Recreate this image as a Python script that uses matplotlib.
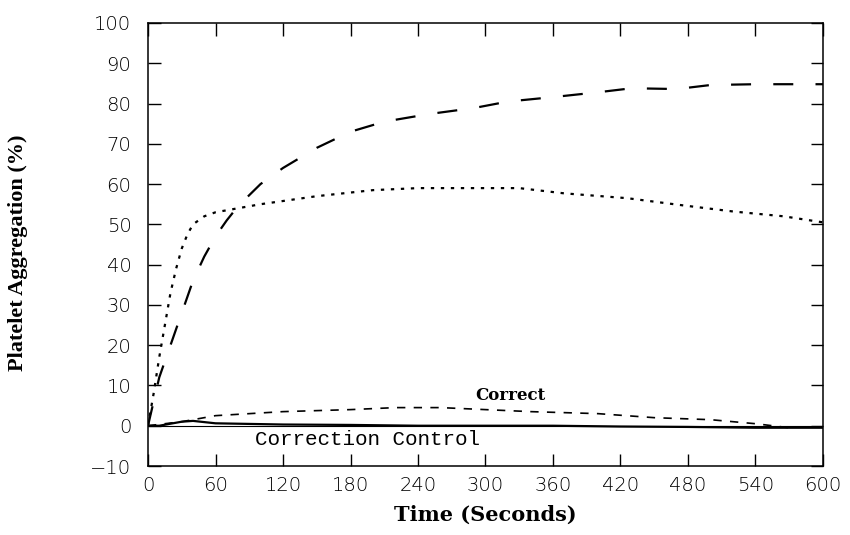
import matplotlib
matplotlib.use("Agg")
import matplotlib.pyplot as plt

# Data (time in seconds, aggregation in %)
t_long = [0, 10, 20, 30, 40, 50, 60, 70, 80, 100, 120, 150, 180, 210, 250, 290, 320, 360, 400, 430, 470, 500, 540, 600]
v_long = [0, 12, 20, 28, 36, 42, 47, 51, 54.5, 60, 64, 69, 73, 75.5, 77.4, 78.9, 80.5, 81.6, 82.8, 83.8, 83.6, 84.6, 84.8, 84.8]

t_dot = [0, 5, 10, 15, 20, 25, 30, 35, 40, 50, 60, 80, 100, 150, 200, 240, 330, 370, 426, 476, 520, 565, 600]
v_dot = [0, 8, 17, 25, 33, 39, 44, 47.5, 50, 52, 53, 54, 55, 57, 58.5, 59, 59, 57.7, 56.5, 54.7, 53.2, 52, 50.5]

t_correct = [0, 30, 60, 120, 180, 220, 260, 300, 340, 400, 450, 500, 540, 570]
v_correct = [0, 1, 2.5, 3.5, 4, 4.5, 4.5, 4, 3.5, 3, 2, 1.5, 0.5, -0.5]

t_control = [0, 10, 30, 40, 60, 120, 180, 240, 300, 360, 420, 480, 540, 600]
v_control = [0, 0, 1, 1.2, 0.6, 0.3, 0.2, 0, 0, 0, -0.2, -0.3, -0.5, -0.5]

x_ticks = [0, 60, 120, 180, 240, 300, 360, 420, 480, 540, 600]
y_ticks = [-10, 0, 10, 20, 30, 40, 50, 60, 70, 80, 90, 100]

fig = plt.figure(figsize=(8.5, 5.35), dpi=100)
ax = fig.add_axes([148/850, 1-466/535, (823-148)/850, (466-23)/535])

ax.plot(t_long, v_long, color="black", lw=1.6, linestyle=(0, (9, 10)), dash_capstyle="butt")
ax.plot(t_dot, v_dot, color="black", lw=1.6, linestyle=(0, (1.5, 3)))
ax.plot(t_correct, v_correct, color="black", lw=1.2, linestyle=(0, (5, 5)))
ax.plot(t_control, v_control, color="black", lw=1.6, linestyle="-")

ax.axhline(0, color="black", lw=0.8)

ax.set_xlim(0, 600)
ax.set_ylim(-10, 100)
ax.set_xticks(x_ticks)
ax.set_yticks(y_ticks)
ax.set_xticklabels([str(v) for v in x_ticks])
ax.set_yticklabels([str(v).replace("-", "\u2212") for v in y_ticks])
ax.tick_params(direction="in", length=9, width=1, top=True, right=True,
               labelsize=14, colors="black")
ax.tick_params(axis="x", pad=7)
ax.tick_params(axis="y", pad=12)
for lab in ax.get_xticklabels() + ax.get_yticklabels():
    lab.set_fontfamily("DejaVu Sans")
    lab.set_fontweight("light")
for s in ax.spines.values():
    s.set_linewidth(1.1)

ax.text(322, 5.5, "Correct", fontsize=12, fontweight="bold", family="DejaVu Serif",
        ha="center", va="bottom")
ax.text(95, -3.5, "Correction Control", fontsize=15, family="Liberation Mono",
        ha="left", va="center")

ax.set_xlabel("Time (Seconds)", fontsize=15, fontweight="bold", family="DejaVu Serif")
ax.xaxis.set_label_coords((485-148)/675, (466-505)/443)
ax.set_ylabel("Platelet Aggregation (%)", fontsize=16, fontweight="bold", family="Liberation Serif")
ax.yaxis.set_label_coords((28-148)/675, (466-253)/443)

fig.savefig("out.png", dpi=100)
